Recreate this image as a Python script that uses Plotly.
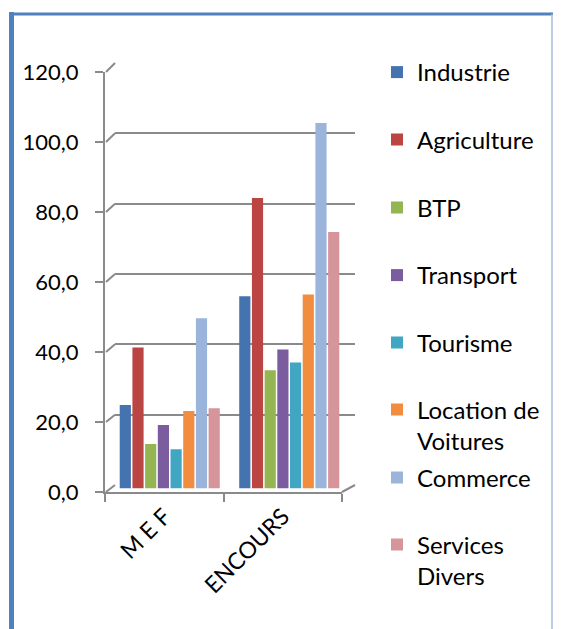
import plotly.graph_objects as go

# ---------------- data ----------------
categories = ["M E F", "ENCOURS"]
sectors = ["Industrie", "Agriculture", "BTP", "Transport", "Tourisme",
           "Location de<br>Voitures", "Commerce", "Services<br>Divers"]
mef_values = [23.8, 40.2, 12.7, 18.1, 11.2, 22.1, 48.5, 22.9]
encours_values = [54.8, 82.8, 33.7, 39.6, 35.9, 55.3, 104.2, 73.1]
y_tickvals = [0, 20, 40, 60, 80, 100, 120]
y_ticktext = ["0,0", "20,0", "40,0", "60,0", "80,0", "100,0", "120,0"]
colors = ["#4473B0", "#BB4542", "#94B552", "#7B5C9F", "#41A6C1",
          "#F28D40", "#9AB4DC", "#D6959A"]

# page body has an 8px margin: build the figure smaller and offset coords
OFF = 8
W, H = 545, 629 - OFF
FONT = "Lato, 'Open Sans', sans-serif"
AXIS_GRAY = "#8a8a8a"


def px(p):
    return (p - OFF) / W


def py(p):
    return 1 - (p - OFF) / H


fig = go.Figure()

legend_centers = [72.5, 140, 208, 275.5, 343, 410, 478, 545]
for i, name in enumerate(sectors):
    lid = "legend" if i == 0 else f"legend{i+1}"
    fig.add_trace(go.Bar(
        x=categories, y=[mef_values[i], encours_values[i]],
        name=name, marker=dict(color=colors[i], line=dict(width=0)),
        xaxis="x2", yaxis="y2", legend=lid, showlegend=True,
    ))

# empty helper traces so the back-wall grid and the front axes get drawn
fig.add_trace(go.Scatter(x=[], y=[], xaxis="x", yaxis="y", showlegend=False,
                         hoverinfo="skip"))
fig.add_trace(go.Scatter(x=[], y=[], xaxis="x3", yaxis="y3", showlegend=False,
                         hoverinfo="skip"))

layout = dict(
    width=W, height=H, showlegend=True,
    margin=dict(l=0, r=0, t=0, b=0, autoexpand=False),
    paper_bgcolor="white", plot_bgcolor="rgba(0,0,0,0)",
    font=dict(family=FONT, color="black", size=22),
    barmode="group", bargap=0.15, bargroupgap=0.12,
    # back wall grid
    xaxis=dict(domain=[px(115), px(355)], range=[0, 1], showgrid=False,
               zeroline=False, showticklabels=False, showline=False, anchor="y"),
    yaxis=dict(domain=[py(485), py(63)], range=[0, 120], tickvals=y_tickvals,
               showgrid=True, gridcolor=AXIS_GRAY, gridwidth=2, zeroline=False,
               showticklabels=False, showline=False, anchor="x"),
    # bars
    xaxis2=dict(domain=[px(110), px(349)], type="category", showgrid=False,
                zeroline=False, showticklabels=False, showline=False, anchor="y2"),
    yaxis2=dict(domain=[py(488.5), py(67.5)], range=[0, 120], showgrid=False,
                zeroline=False, showticklabels=False, showline=False, anchor="x2"),
    # front axes
    xaxis3=dict(domain=[px(105), px(342)], range=[0, 2], tickvals=[0.5, 1.5],
                ticktext=categories, tickangle=-45, ticks="", showgrid=False,
                zeroline=False, showline=True, linecolor=AXIS_GRAY, linewidth=2,
                tickfont=dict(size=23), anchor="y3",
                minor=dict(tickvals=[0, 1, 2], ticks="outside", ticklen=8,
                           tickwidth=2, tickcolor=AXIS_GRAY, showgrid=False)),
    yaxis3=dict(domain=[py(492), py(72)], range=[0, 120], tickvals=y_tickvals,
                ticktext=y_ticktext, ticks="outside", ticklen=8, tickwidth=2,
                tickcolor=AXIS_GRAY, showgrid=False, zeroline=False, showline=True,
                linecolor=AXIS_GRAY, linewidth=2, ticklabelstandoff=12,
                anchor="x3"),
)

for i, name in enumerate(sectors):
    lid = "legend" if i == 0 else f"legend{i+1}"
    nlines = name.count("<br>") + 1
    layout[lid] = dict(
        x=px(377), xanchor="left",
        y=py(legend_centers[i] + (nlines - 1) * 15.5), yanchor="middle",
        bgcolor="rgba(0,0,0,0)", borderwidth=0, valign="top",
        font=dict(family=FONT, size=24, color="black"),
    )

# frame and 3D perspective edges (decoration)
shapes = [
    dict(type="line", xref="paper", yref="paper", x0=px(11.5), x1=px(11.5),
         y0=py(12), y1=0, line=dict(color="#4F81BD", width=5)),
    dict(type="line", xref="paper", yref="paper", x0=px(9), x1=1,
         y0=py(14), y1=py(14), line=dict(color="#4F81BD", width=3)),
    dict(type="line", xref="paper", yref="paper", x0=px(552), x1=px(552),
         y0=py(14), y1=0, line=dict(color="#A7BFDE", width=1.5)),
    dict(type="line", xref="paper", yref="paper", x0=px(342), x1=px(355),
         y0=py(492), y1=py(485), line=dict(color=AXIS_GRAY, width=2)),
]
for v in y_tickvals:
    fy = 492 - v * 420 / 120
    by = 485 - v * 422 / 120
    shapes.append(dict(type="line", xref="paper", yref="paper",
                       x0=px(106), x1=px(115), y0=py(fy), y1=py(by),
                       line=dict(color=AXIS_GRAY, width=2)))
layout["shapes"] = shapes

fig.update_layout(**layout)
fig.write_html("out.html")
